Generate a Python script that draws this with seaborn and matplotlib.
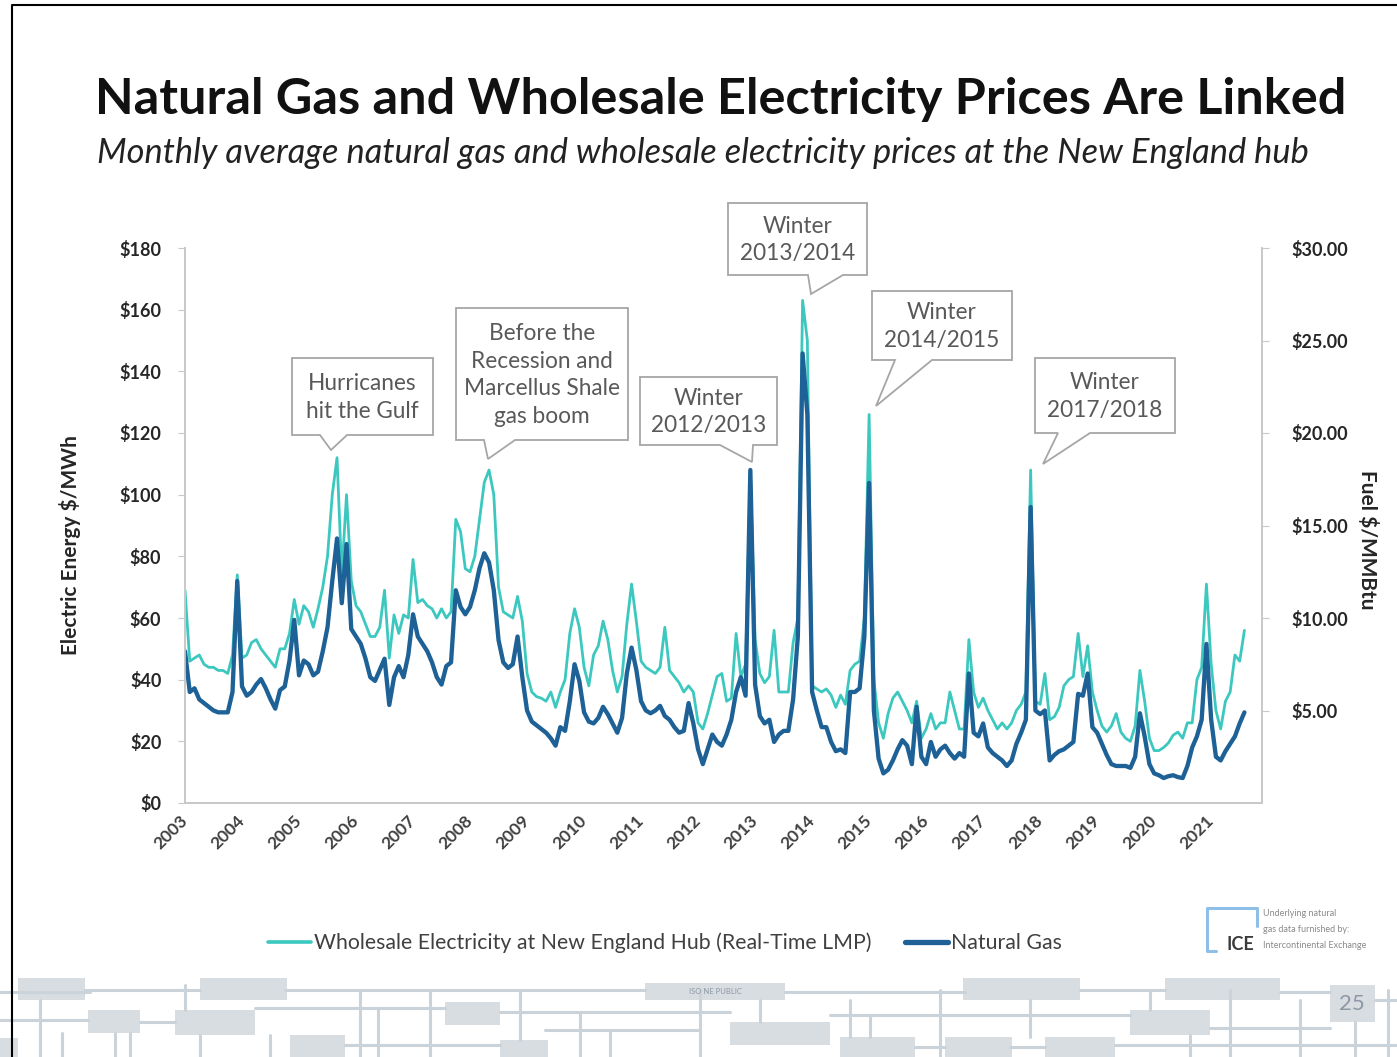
import numpy as np
import pandas as pd
import matplotlib
matplotlib.use('Agg')
import matplotlib.pyplot as plt
import seaborn as sns
from matplotlib.patches import Polygon, Rectangle
from matplotlib.lines import Line2D

# monthly values, Jan 2003 .. Aug 2021
elec_prices = [
    69, 46, 47, 48, 45, 44, 44, 43, 43, 42, 48, 74,          # 2003
    47, 48, 52, 53, 50, 48, 46, 44, 50, 50, 55, 66,          # 2004
    58, 64, 62, 57, 63, 70, 80, 100, 112, 74, 100, 72,       # 2005
    64, 62, 58, 54, 54, 57, 69, 47, 61, 55, 61, 60,          # 2006
    79, 65, 66, 64, 63, 60, 63, 60, 62, 92, 88, 76,          # 2007
    75, 80, 92, 104, 108, 100, 70, 62, 61, 60, 67, 59,       # 2008
    42, 36, 34.5, 34, 33, 36, 31, 36, 40, 55, 63, 57,        # 2009
    44, 38, 48, 51, 59, 53, 43, 36, 41, 58, 71, 59,          # 2010
    46, 44, 43, 42, 44, 57, 43, 41, 39, 36, 38, 36,          # 2011
    26, 24, 29, 35, 41, 42, 33, 34, 55, 41, 45, 108,         # 2012
    53, 42, 39, 41, 56, 36, 36, 36, 52, 60, 163, 150,        # 2013
    38, 37, 36, 37, 35, 31, 35, 32, 43, 45, 46, 60,          # 2014
    126, 40, 26, 21, 29, 34, 36, 33, 30, 26, 33, 21,         # 2015
    24, 29, 24, 26, 26, 36, 30, 24, 24, 53, 36, 31,          # 2016
    34, 30, 27, 24, 26, 24, 26, 30, 32, 36, 108, 33,         # 2017
    32, 42, 27, 28, 31, 38, 40, 41, 55, 41, 51, 36,          # 2018
    30, 25, 23, 25, 29, 23, 21, 20, 25, 43, 33, 21,          # 2019
    17, 17, 18, 19.5, 22, 23, 21, 26, 26, 40, 44, 71,        # 2020
    45, 30, 24, 33, 36, 48, 46, 56,                          # 2021
]
gas_prices = [
    8.2, 6.0, 6.2, 5.6, 5.4, 5.2, 5.0, 4.9, 4.9, 4.9, 6.0, 12.0,
    6.3, 5.8, 6.0, 6.4, 6.7, 6.2, 5.6, 5.1, 6.1, 6.3, 7.7, 9.9,
    6.9, 7.7, 7.5, 6.9, 7.1, 8.2, 9.5, 12.0, 14.3, 10.8, 14.0, 9.4,
    9.0, 8.6, 7.8, 6.8, 6.6, 7.2, 7.8, 5.3, 6.8, 7.4, 6.8, 8.0,
    10.2, 9.0, 8.6, 8.2, 7.6, 6.8, 6.4, 7.4, 7.6, 11.5, 10.6, 10.2,
    10.6, 11.5, 12.7, 13.5, 13.0, 11.5, 8.8, 7.6, 7.3, 7.5, 9.0, 6.8,
    5.0, 4.4, 4.2, 4.0, 3.8, 3.5, 3.1, 4.1, 3.9, 5.5, 7.5, 6.6,
    4.9, 4.4, 4.3, 4.6, 5.2, 4.8, 4.3, 3.8, 4.6, 7.0, 8.4, 7.2,
    5.5, 5.0, 4.85, 5.0, 5.25, 4.7, 4.5, 4.1, 3.8, 3.9, 5.4, 4.3,
    2.9, 2.1, 2.9, 3.7, 3.3, 3.1, 3.7, 4.5, 6.0, 6.8, 5.8, 18.0,
    6.4, 4.7, 4.3, 4.5, 3.3, 3.7, 3.9, 3.9, 5.6, 9.0, 24.3, 21.0,
    6.0, 5.0, 4.1, 4.1, 3.3, 2.8, 2.9, 2.7, 6.0, 6.0, 6.2, 9.0,
    17.3, 5.0, 2.4, 1.6, 1.8, 2.3, 2.9, 3.4, 3.1, 2.1, 5.2, 2.5,
    2.1, 3.3, 2.5, 2.9, 3.1, 2.7, 2.4, 2.7, 2.5, 7.0, 3.8, 3.6,
    4.3, 3.0, 2.7, 2.5, 2.3, 2.0, 2.3, 3.2, 3.8, 4.5, 16.0, 5.0,
    4.8, 5.0, 2.3, 2.6, 2.8, 2.9, 3.1, 3.3, 5.9, 5.8, 7.0, 4.1,
    3.8, 3.2, 2.6, 2.1, 2.0, 2.0, 2.0, 1.9, 2.5, 4.85, 3.6, 2.1,
    1.6, 1.5, 1.35, 1.45, 1.5, 1.4, 1.35, 2.0, 3.0, 3.6, 4.5, 8.6,
    4.5, 2.5, 2.3, 2.8, 3.2, 3.6, 4.3, 4.9,
]
years = list(range(2003, 2022))
elec_ticks = list(range(0, 181, 20))
gas_ticks = list(range(5, 31, 5))

elec_label = 'Wholesale Electricity at New England Hub (Real-Time LMP)'
gas_label = 'Natural Gas'

df = pd.DataFrame({'month': np.arange(len(elec_prices)),
                   'elec': elec_prices, 'gas': gas_prices})

LIGHT = '#3cc8bf'
DARK = '#1d6196'
GREY_TXT = '#595959'

sns.set_style('white')
plt.rcParams['font.family'] = ['Lato', 'DejaVu Sans']

W, H = 1397, 1057
fig = plt.figure(figsize=(W / 100, H / 100), dpi=100)


def fx(x):
    return x / W


def fy(y):
    return 1 - y / H


ax = fig.add_axes([fx(185), fy(803), fx(1262) - fx(185), fy(248) - fy(803)])
ax2 = ax.twinx()

sns.lineplot(data=df, x='month', y='elec', ax=ax, color=LIGHT, linewidth=2.0)
sns.lineplot(data=df, x='month', y='gas', ax=ax2, color=DARK, linewidth=3.1)

ax.set_xlim(0, 226.7)
ax.set_ylim(0, 180)
ax2.set_ylim(0, 30)

ax.set_yticks(elec_ticks)
ax.set_yticklabels([f'${v}' for v in elec_ticks], fontweight='bold', fontsize=13, color='#262626')
ax2.set_yticks(gas_ticks)
ax2.set_yticklabels([f'${v:.2f}' for v in gas_ticks], fontweight='bold', fontsize=13, color='#262626')
ax.set_xticks([12 * i for i in range(len(years))])
ax.set_xticklabels([str(y) for y in years], rotation=45, ha='right', va='center',
                   rotation_mode='anchor', fontweight='bold', fontsize=12.5, color='#404040')
ax.set_xlabel('')
ax.set_ylabel('')
ax2.set_ylabel('')

for a in (ax, ax2):
    for s in a.spines.values():
        s.set_color('#c8c8c8')
        s.set_linewidth(1.2)
    a.spines['top'].set_visible(False)
ax.tick_params(axis='y', length=5, color='#c8c8c8', pad=12)
ax2.tick_params(axis='y', length=5, color='#c8c8c8', pad=16)
ax.tick_params(axis='x', length=7, color='#c8c8c8', pad=4)

fig.text(fx(70), fy(545), 'Electric Energy $/MWh', rotation=90, ha='center', va='center',
         fontsize=15, fontweight='bold', color='#262626')
fig.text(fx(1367), fy(540), 'Fuel $/MMBtu', rotation=270, ha='center', va='center',
         fontsize=15, fontweight='bold', color='#262626')

# titles, sized to the slide
renderer = fig.canvas.get_renderer()


def fit_width(t, target):
    w = t.get_window_extent(renderer=renderer).width
    t.set_fontsize(t.get_fontsize() * target / w)


title = fig.text(fx(721), fy(100), 'Natural Gas and Wholesale Electricity Prices Are Linked',
                 ha='center', va='center', fontsize=30, fontweight='bold', color='#111111')
fit_width(title, 1247)
sub = fig.text(fx(703), fy(153),
               'Monthly average natural gas and wholesale electricity prices at the New England hub',
               ha='center', va='center', fontsize=20, style='italic', color='#222222')
fit_width(sub, 1210)

# callouts
callouts = [
    ((292, 358, 433, 435), (320, 347), (331, 450), 'Hurricanes\nhit the Gulf'),
    ((456, 308, 628, 440), (484, 515), (488, 459), 'Before the\nRecession and\nMarcellus Shale\ngas boom'),
    ((640, 377, 777, 445), (720, 753), (752, 462), 'Winter\n2012/2013'),
    ((728, 203, 867, 275), (808, 843), (811, 294), 'Winter\n2013/2014'),
    ((872, 291, 1012, 360), (895, 932), (876, 406), 'Winter\n2014/2015'),
    ((1035, 358, 1175, 433), (1058, 1090), (1043, 464), 'Winter\n2017/2018'),
]
for (x0, y0, x1, y1), (n0, n1), tip, txt in callouts:
    pts = [(x0, y0), (x1, y0), (x1, y1), (n1, y1), tip, (n0, y1), (x0, y1)]
    poly = Polygon([(fx(a), fy(b)) for a, b in pts], closed=True, facecolor='white',
                   edgecolor='#a6a6a6', linewidth=1.3, transform=fig.transFigure, zorder=2)
    fig.add_artist(poly)
    fig.text(fx((x0 + x1) / 2), fy((y0 + y1) / 2 + 1), txt, ha='center', va='center',
             fontsize=16.3, color=GREY_TXT, linespacing=1.4, zorder=3)

# legend
handles = [Line2D([], [], color=LIGHT, linewidth=2.6),
           Line2D([], [], color=DARK, linewidth=3.8)]
leg = fig.legend(handles, [elec_label, gas_label], loc='center', ncol=2,
                 bbox_to_anchor=(fx(665), fy(943)), frameon=False, fontsize=15.3,
                 handlelength=2.0, handletextpad=0.15, columnspacing=1.6)
for t in leg.get_texts():
    t.set_color('#404040')

# ICE credit
fig.add_artist(Line2D([fx(1257), fx(1257), fx(1207), fx(1207), fx(1216)],
                      [fy(926), fy(908), fy(908), fy(951), fy(951)],
                      color='#8dbfe8', linewidth=2.2, transform=fig.transFigure))
fig.text(fx(1240), fy(944), 'ICE', ha='center', va='center', fontsize=13,
         fontweight='bold', color='#3a3a3a')
for k, line in enumerate(['Underlying natural', 'gas data furnished by:', 'Intercontinental Exchange']):
    fig.text(fx(1263), fy(913 + 16 * k), line, ha='left', va='center', fontsize=6.5, color='#8a8a8a')

# decorative circuit band at the bottom of the slide
BOX = '#d8dde2'
WIRE = '#cbd3da'
wires_h = [(0, 90, 992), (85, 200, 990), (285, 645, 990), (785, 965, 992), (1080, 1165, 990),
           (1280, 1330, 992), (0, 88, 1020), (140, 175, 1022), (255, 445, 1008), (500, 730, 1012),
           (830, 1130, 1015), (1210, 1330, 1028), (345, 500, 1045), (915, 945, 1047),
           (1010, 1045, 1047), (1115, 1397, 1045), (545, 700, 1030), (1375, 1397, 1000)]
wires_v = [(40, 1000, 1057), (62, 1033, 1057), (115, 1033, 1057), (130, 1033, 1057),
           (185, 985, 1010), (200, 1035, 1057), (270, 1035, 1057), (360, 990, 1057),
           (378, 1008, 1057), (430, 990, 1057), (520, 990, 1040), (580, 1012, 1057),
           (610, 1030, 1057), (700, 990, 1057), (760, 1000, 1022), (850, 1000, 1037),
           (870, 1015, 1037), (940, 990, 1057), (1030, 1000, 1037), (1150, 990, 1010),
           (1190, 1035, 1057), (1230, 990, 1057), (1300, 1000, 1057), (1355, 1022, 1057),
           (1388, 990, 1057)]
for x0, x1, y in wires_h:
    fig.add_artist(Line2D([fx(x0), fx(x1)], [fy(y), fy(y)], color=WIRE, linewidth=2.2,
                          transform=fig.transFigure))
for x, y0, y1 in wires_v:
    fig.add_artist(Line2D([fx(x), fx(x)], [fy(y0), fy(y1)], color=WIRE, linewidth=2.2,
                          transform=fig.transFigure))
boxes = [(18, 978, 85, 1000), (88, 1010, 140, 1033), (175, 1010, 255, 1035),
         (200, 978, 287, 1000), (0, 1038, 18, 1057), (290, 1035, 345, 1057),
         (445, 1002, 500, 1025), (500, 1040, 548, 1057), (645, 983, 785, 1000),
         (730, 1022, 830, 1045), (840, 1037, 915, 1057), (945, 1037, 1012, 1057),
         (963, 978, 1080, 1000), (1045, 1037, 1115, 1057), (1130, 1010, 1210, 1035),
         (1165, 978, 1280, 1000), (1330, 985, 1375, 1022)]
for x0, y0, x1, y1 in boxes:
    fig.add_artist(Rectangle((fx(x0), fy(y1)), fx(x1) - fx(x0), fy(y0) - fy(y1),
                             facecolor=BOX, edgecolor='none', transform=fig.transFigure))
fig.text(fx(715), fy(991), 'ISO NE PUBLIC', ha='center', va='center', fontsize=5.5, color='#8c98a4')
fig.text(fx(1352), fy(1004), '25', ha='center', va='center', fontsize=16, color='#8c98a4')

# slide border
fig.add_artist(Line2D([fx(12), fx(12), fx(W)], [fy(H), fy(5), fy(5)], color='black',
                      linewidth=1.5, transform=fig.transFigure))

fig.savefig('out.png', dpi=100, facecolor='white')
